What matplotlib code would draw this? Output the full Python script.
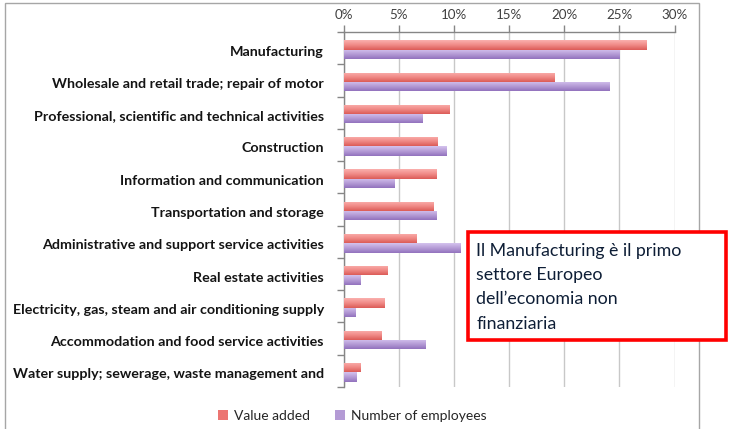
import matplotlib
matplotlib.use("Agg")
import matplotlib.pyplot as plt
import numpy as np
from matplotlib.patches import Rectangle, Patch
from matplotlib.colors import LinearSegmentedColormap
from matplotlib.ticker import FuncFormatter, MultipleLocator
from matplotlib.transforms import ScaledTranslation

categories = [
    "Manufacturing",
    "Wholesale and retail trade; repair of motor",
    "Professional, scientific and technical activities",
    "Construction",
    "Information and communication",
    "Transportation and storage",
    "Administrative and support service activities",
    "Real estate activities",
    "Electricity, gas, steam and air conditioning supply",
    "Accommodation and food service activities",
    "Water supply; sewerage, waste management and",
]
value_added = [27.4, 19.1, 9.6, 8.5, 8.4, 8.1, 6.6, 3.95, 3.7, 3.4, 1.5]
employees = [25.0, 24.1, 7.1, 9.3, 4.6, 8.4, 10.6, 1.5, 1.05, 7.4, 1.15]
series_names = ["Value added", "Number of employees"]
note_lines = ["Il Manufacturing è il primo", "settore Europeo",
              "dell\u2019economia non", "finanziaria"]

W, H = 731, 429
fig = plt.figure(figsize=(W / 100, H / 100), dpi=100)
fig.patch.set_facecolor("white")

def fx(px):
    return px / W

def fy(py):
    return 1 - py / H

# outer chart frame
fig.add_artist(Rectangle((fx(5), fy(440)), fx(699) - fx(5), fy(3) - fy(440),
                         transform=fig.transFigure, fill=False,
                         edgecolor="#A6A6A6", lw=1.0, zorder=0))

ax = fig.add_axes([fx(343.5), fy(387), fx(674.5) - fx(343.5), fy(32) - fy(387)])
ax.set_facecolor("none")

y = np.arange(len(categories))
h = 0.29
shift = 0.045
red_cmap = LinearSegmentedColormap.from_list("r", ["#FBB0AE", "#F08A87", "#DC5B57"])
pur_cmap = LinearSegmentedColormap.from_list("p", ["#D5C3EE", "#B59CD6", "#9272BD"])

def gradient_bars(ypos, vals, cmap):
    bars = ax.barh(ypos, vals, height=h, color="none", edgecolor="none", zorder=3)
    grad = np.linspace(0, 1, 64).reshape(-1, 1)
    for b in bars:
        x0, y0 = b.get_x(), b.get_y()
        w, hh = b.get_width(), b.get_height()
        im = ax.imshow(grad, cmap=cmap, aspect="auto",
                       extent=(x0, x0 + w, y0 + hh, y0), origin="upper",
                       zorder=3, interpolation="bilinear")
        im.set_clip_path(b)
    return bars

gradient_bars(y - h / 2 + shift, value_added, red_cmap)
gradient_bars(y + h / 2 + shift, employees, pur_cmap)

ax.set_xlim(0, 30)
ax.set_ylim(len(categories) - 0.5, -0.5)

ax.xaxis.set_major_locator(MultipleLocator(5))
ax.xaxis.set_major_formatter(FuncFormatter(lambda v, p: f"{v:.0f}%"))
ax.xaxis.tick_top()
ax.tick_params(axis="x", which="major", direction="out", length=5, width=1,
               color="#868686", labelsize=9.6, labelcolor="#404040", pad=3)
ax.grid(axis="x", color="#C8C8C8", lw=1, zorder=0)
ax.set_axisbelow(True)

ax.set_yticks(y)
ax.set_yticklabels(categories, fontsize=10.3, fontweight="bold", color="#141414",
                   family=["Lato", "DejaVu Sans"])
ax.tick_params(axis="y", which="major", length=0, pad=14)
ax.set_yticks(np.arange(len(categories) + 1) - 0.5, minor=True)
ax.tick_params(axis="y", which="minor", direction="out", length=5, width=1,
               color="#868686")
off = ScaledTranslation(0, -2.5 / 100, fig.dpi_scale_trans)
for lbl in ax.get_yticklabels():
    lbl.set_transform(lbl.get_transform() + off)
for lbl in ax.get_xticklabels():
    lbl.set_family(["Lato", "DejaVu Sans"])

for s in ["right", "bottom"]:
    ax.spines[s].set_visible(False)
for s in ["top", "left"]:
    ax.spines[s].set_color("#868686")
    ax.spines[s].set_linewidth(1)

# legend
handles = [Patch(facecolor="#EC7572", edgecolor="none"),
           Patch(facecolor="#B49BD5", edgecolor="none")]
fig.legend(handles, series_names, loc="center", bbox_to_anchor=(fx(352), fy(416)),
           ncol=2, frameon=False, prop={"family": ["Lato", "DejaVu Sans"], "size": 10},
           handlelength=0.75, handleheight=0.75, handletextpad=0.4, columnspacing=1.8,
           labelcolor="#262626")

# annotation box
fig.add_artist(Rectangle((fx(467.5), fy(339.5)), fx(725.5) - fx(467.5), fy(231.5) - fy(339.5),
                         transform=fig.transFigure, facecolor="white",
                         edgecolor="#FF0000", lw=2.6, zorder=5))
for i, line in enumerate(note_lines):
    fig.text(fx(476.5), fy(251 + i * 24.2), line, fontsize=12.8, color="#0E1E36",
             family=["Lato", "DejaVu Sans"], va="center", ha="left", zorder=6)

fig.savefig("out.png", dpi=100, facecolor="white")
